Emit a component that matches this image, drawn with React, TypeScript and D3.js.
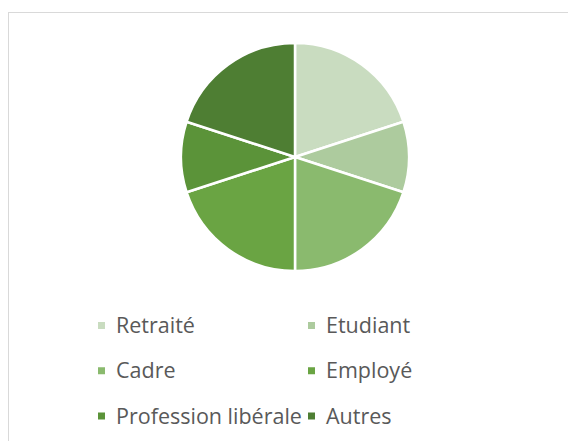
import React from "react";
import * as d3 from "d3";

const categories = ["Retraité", "Etudiant", "Cadre", "Employé", "Profession libérale", "Autres"];
const values = [20, 10, 20, 20, 10, 20];
const colors = ["#c9dcc0", "#adcb9e", "#8aba6e", "#6aa443", "#5b9339", "#4e7e33"];

const width = 568;
const height = 441;

const App = () => {
  const cx = 295;
  const cy = 157;
  const radius = 114;

  const pie = d3.pie<number>().sort(null).value((d) => d);
  const arcs = pie(values);
  const arc = d3.arc<d3.PieArcDatum<number>>().innerRadius(0).outerRadius(radius);

  // legend grid: 2 columns, 3 rows
  const colX = d3.scaleOrdinal<number, number>().domain([0, 1]).range([98, 308]);
  const rowY = d3.scaleLinear().domain([0, 2]).range([325.5, 416]);

  return (
    <svg
      width={width}
      height={height}
      viewBox={`0 0 ${width} ${height}`}
      style={{ position: "fixed", left: 0, top: 0, background: "#fff" }}
    >
      <rect x={8.5} y={12.5} width={width} height={height} fill="#fff" stroke="#d9d9d9" strokeWidth={1} />
      <g transform={`translate(${cx},${cy})`}>
        {arcs.map((a, i) => (
          <path key={categories[i]} d={arc(a) || ""} fill={colors[i]} stroke="#fff" strokeWidth={2.5} strokeLinejoin="round" />
        ))}
      </g>
      <g fontFamily="'Open Sans', sans-serif" fontSize={21.5} fill="#595959">
        {categories.map((c, i) => {
          const x = colX(i % 2);
          const y = rowY(Math.floor(i / 2));
          return (
            <g key={c}>
              <rect x={x} y={y - 3.5} width={7} height={7} fill={colors[i]} />
              <text x={x + 18} y={y} dy="0.35em">{c}</text>
            </g>
          );
        })}
      </g>
    </svg>
  );
};

export default App;
